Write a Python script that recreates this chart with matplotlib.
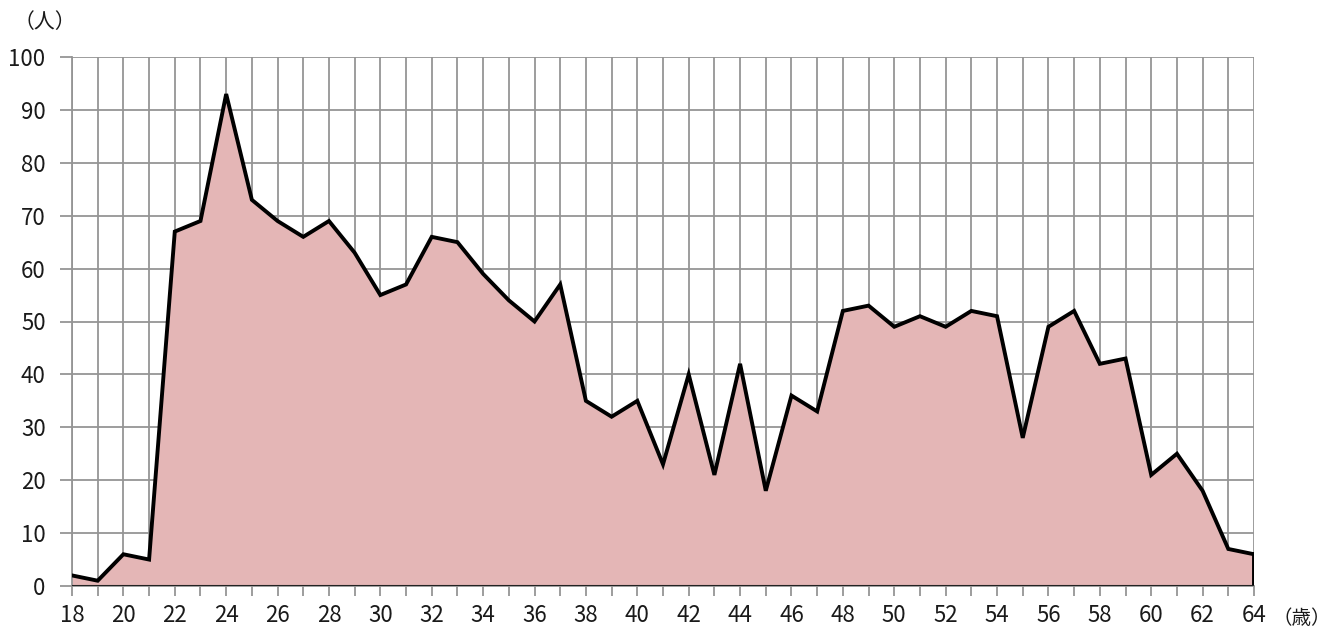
import matplotlib.pyplot as plt

ages = list(range(18, 65))
counts = [2, 1, 6, 5, 67, 69, 93, 73, 69, 66, 69, 63, 55, 57, 66, 65, 59, 54, 50, 57,
          35, 32, 35, 23, 40, 21, 42, 18, 36, 33, 52, 53, 49, 51, 49, 52, 51, 28, 49, 52,
          42, 43, 21, 25, 18, 7, 6]
y_ticks = list(range(0, 101, 10))
x_labels = list(range(18, 65, 2))

plt.rcParams['font.family'] = ['Noto Sans CJK JP', 'DejaVu Sans']

fig = plt.figure(figsize=(13.33, 6.32), dpi=100)
ax = fig.add_axes([72 / 1333, 46 / 632, (1254 - 72) / 1333, (586 - 57) / 632])

ax.fill_between(ages, counts, 0, facecolor='#e4b6b6', edgecolor='none', zorder=2)
ax.plot(ages, counts, color='black', linewidth=2.8, zorder=3, solid_joinstyle='miter')
ax.plot([ages[-1], ages[-1]], [0, counts[-1]], color='black', linewidth=2.8, zorder=3)
ax.axhline(0, color='#222222', linewidth=1.5, zorder=3)

ax.set_xlim(18, 64)
ax.set_ylim(0, 100)
ax.set_xticks(ages)
ax.set_xticklabels([str(a) if a in x_labels else '' for a in ages])
ax.set_yticks(y_ticks)

ax.grid(True, color='#959595', linewidth=1.3, zorder=1)
ax.set_axisbelow(True)
for s in ['top', 'right']:
    ax.spines[s].set_visible(False)
for s in ['left', 'bottom']:
    ax.spines[s].set_color('#959595')
    ax.spines[s].set_linewidth(1.3)

ax.tick_params(axis='both', direction='out', length=7, width=1.3, color='#959595',
               labelsize=16, labelcolor='#1a1a1a')
ax.tick_params(axis='x', pad=6)
ax.tick_params(axis='y', length=9, pad=10)

fig.text(14 / 1333, 1 - 22 / 632, '（人）', fontsize=15, color='#1a1a1a', va='center', ha='left')
fig.text(1331 / 1333, 1 - 619 / 632, '（歳）', fontsize=14, color='#1a1a1a', va='center', ha='right')

fig.savefig('out.png', dpi=100)
